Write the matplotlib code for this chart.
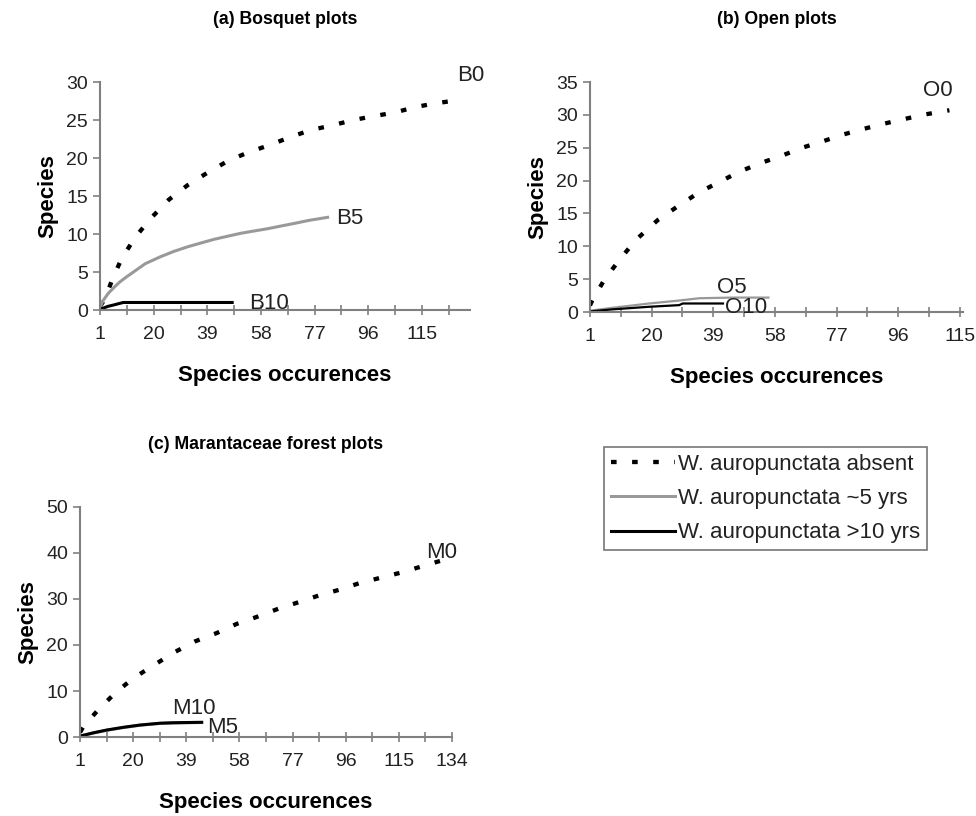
import numpy as np
import matplotlib.pyplot as plt
from matplotlib.lines import Line2D

plt.rcParams['font.family'] = ['Liberation Sans', 'DejaVu Sans']

# (a) Bosquet plots
b0_x = [1, 2.8, 5.5, 8.7, 13.5, 18.8, 25.3, 31.9, 39.6, 46.7, 53.9, 61, 68.7, 75.8, 83.3, 90.7, 97.8, 105.5, 112.6, 119.8, 127.5]
b0_y = [0.5, 1.5, 4.2, 6.8, 9.6, 12.0, 14.5, 16.4, 18.2, 19.7, 20.8, 21.7, 22.8, 23.7, 24.3, 25.0, 25.5, 26.0, 26.7, 27.2, 27.6]
b5_x = [1, 2, 3.9, 6, 8, 10.5, 12.8, 17, 22.3, 27, 31.8, 36.5, 41.3, 46, 50.8, 55.5, 60.3, 65, 69.8, 75, 81.6]
b5_y = [0.3, 1.2, 2.2, 3.0, 3.7, 4.4, 5.0, 6.1, 7.0, 7.7, 8.3, 8.8, 9.3, 9.7, 10.1, 10.4, 10.7, 11.05, 11.4, 11.8, 12.2]
b10_x = [1, 3.9, 5.6, 9.2, 20, 30, 40, 47.8]
b10_y = [0.1, 0.5, 0.65, 1.0, 1.0, 1.0, 1.0, 1.0]

# (b) Open plots
o0_x = [1, 1.7, 5.3, 10, 15.2, 21.9, 28.1, 34.6, 40.9, 47.3, 53.8, 60.2, 66.4, 72.9, 79, 85.6, 92, 98.2, 104.7, 111.8]
o0_y = [1.0, 1.8, 4.8, 7.9, 11.0, 14.0, 16.1, 18.2, 19.8, 21.4, 22.7, 23.8, 25.0, 26.0, 27.0, 27.9, 28.7, 29.4, 30.1, 30.7]
o5_x = [1, 8.9, 19.2, 27.5, 34.7, 45, 56]
o5_y = [0.2, 0.7, 1.3, 1.7, 2.1, 2.2, 2.2]
o10_x = [1, 7.8, 19.2, 28.5, 29.6, 35, 42]
o10_y = [0.1, 0.4, 0.8, 1.05, 1.3, 1.3, 1.3]

# (c) Marantaceae forest plots
m0_x = [1, 2.2, 7.8, 13.8, 20.1, 27.6, 35, 42.2, 49.9, 57.1, 64.2, 72, 79.2, 86.6, 93.7, 101.2, 108.4, 116.2, 123.3, 130.5]
m0_y = [1.0, 2.3, 6.1, 9.7, 12.8, 15.7, 18.5, 20.8, 22.6, 24.6, 26.1, 27.9, 29.3, 30.8, 32.0, 33.5, 34.6, 35.8, 37.1, 38.4]
m5_x = [1, 5.7, 10.4, 16.4, 22.4, 29.6, 34.3, 44.5]
m5_y = [0.2, 0.85, 1.45, 2.05, 2.55, 2.95, 3.05, 3.15]
m10_x = [1, 5.7, 10.4, 16.4, 22.4, 29.6, 34.3, 44.5]
m10_y = [0.2, 0.9, 1.5, 2.1, 2.6, 3.0, 3.1, 3.2]

major_ticks_ab = [1, 20, 39, 58, 77, 96, 115]
major_ticks_c = [1, 20, 39, 58, 77, 96, 115, 134]

legend_labels = ['W. auropunctata absent', 'W. auropunctata ~5 yrs', 'W. auropunctata >10 yrs']

dash_style = dict(color='black', lw=3.1, ls=(0, (1.3, 3.6)), dash_capstyle='butt')
gray_style = dict(color='#999999', lw=2.2)
black_style = dict(color='black', lw=2.2)

fig = plt.figure(figsize=(9.76, 8.16), dpi=100)


def style_axes(ax, xmax, ymax, ystep, majors):
    for s in ['top', 'right']:
        ax.spines[s].set_visible(False)
    for s in ['left', 'bottom']:
        ax.spines[s].set_color('#808080')
        ax.spines[s].set_linewidth(1.5)
    ax.set_xlim(1, xmax)
    ax.set_ylim(0, ymax)
    ax.set_yticks(np.arange(0, ymax + 1, ystep))
    ax.set_xticks(majors)
    minors = [(majors[i] + majors[i + 1]) / 2 for i in range(len(majors) - 1)]
    if majors[-1] + 9.5 <= xmax + 0.5:
        minors.append(majors[-1] + 9.5)
    ax.set_xticks(minors, minor=True)
    ax.tick_params(axis='both', which='both', color='#808080', width=1.2, length=5,
                   labelsize=14, labelcolor='#222222', direction='out')
    ax.tick_params(axis='x', which='both', direction='inout', length=7, pad=8)
    ax.set_ylabel('Species', fontsize=16, fontweight='bold', labelpad=6)
    ax.set_xlabel('Species occurences', fontsize=16, fontweight='bold', labelpad=16)


# panel a
ax1 = fig.add_axes([0.1025, 0.620, 0.379, 0.2795])
ax1.plot(b0_x, b0_y, **dash_style)
ax1.plot(b5_x, b5_y, **gray_style)
ax1.plot(b10_x, b10_y, **black_style)
style_axes(ax1, 132, 30, 5, major_ticks_ab)
ax1.set_title('(a) Bosquet plots', fontsize=12.7, fontweight='bold', pad=42)
for t, x, y in [('B0', 127.5, 30.9), ('B5', 84.7, 12.0), ('B10', 53.8, 0.9)]:
    ax1.text(x, y, t, fontsize=16, va='center', ha='left', color='#222222', clip_on=False)

# panel b
ax2 = fig.add_axes([0.6045, 0.6176, 0.3822, 0.2819])
ax2.plot(o0_x, o0_y, **dash_style)
ax2.plot(o5_x, o5_y, color='#999999', lw=1.6)
ax2.plot(o10_x, o10_y, color='black', lw=1.6)
style_axes(ax2, 116, 35, 5, major_ticks_ab)
ax2.set_title('(b) Open plots', fontsize=12.7, fontweight='bold', pad=42)
for t, x, y in [('O0', 103.7, 33.7), ('O5', 40.3, 3.8), ('O10', 42.6, 0.76)]:
    ax2.text(x, y, t, fontsize=16, va='center', ha='left', color='#222222', clip_on=False)

# panel c
ax3 = fig.add_axes([0.082, 0.0968, 0.381, 0.2819])
ax3.plot(m0_x, m0_y, **dash_style)
ax3.plot(m5_x, m5_y, **gray_style)
ax3.plot(m10_x, m10_y, **black_style)
style_axes(ax3, 134, 50, 10, major_ticks_c)
ax3.set_title('(c) Marantaceae forest plots', fontsize=12.7, fontweight='bold', pad=42)
for t, x, y in [('M0', 124.9, 40.1), ('M10', 33.8, 6.3), ('M5', 46.6, 2.0)]:
    ax3.text(x, y, t, fontsize=16, va='center', ha='left', color='#222222', clip_on=False)

# legend
handles = [Line2D([], [], **dash_style),
           Line2D([], [], **gray_style),
           Line2D([], [], **black_style)]
leg = fig.legend(handles, legend_labels, loc='upper left', bbox_to_anchor=(604 / 976, 1 - 447 / 816),
                 fontsize=16, frameon=True, fancybox=False, handlelength=2.9, handletextpad=0.15,
                 borderpad=0.3, labelspacing=0.6, borderaxespad=0)
leg.get_frame().set_edgecolor('#555555')
leg.get_frame().set_linewidth(1.2)
for txt in leg.get_texts():
    txt.set_color('#222222')

plt.savefig('out.png', dpi=100)
